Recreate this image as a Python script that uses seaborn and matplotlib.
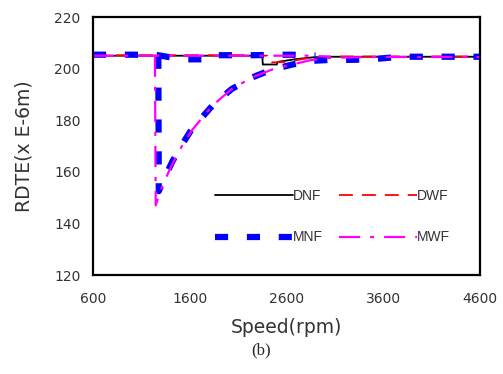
import matplotlib
matplotlib.use("Agg")
import matplotlib.pyplot as plt
import seaborn as sns
import pandas as pd
from matplotlib.lines import Line2D

sns.set_theme(style="white")
plt.rcParams["font.family"] = ["DejaVu Sans"]

# DNF: conventional, no fault
dnf_speed = [600, 1000, 1400, 1800, 2200, 2350, 2355, 2500, 2510, 2680, 2880, 3050, 3400, 4000, 4600]
dnf_rdte = [205.0, 205.0, 205.0, 205.0, 205.0, 205.0, 201.6, 201.6, 202.6, 203.6, 204.4, 204.6, 204.6, 204.6, 204.6]

# DWF: conventional, with fault
dwf_speed = [600, 1000, 1400, 1800, 2200, 2400, 2420, 2600, 2780, 2950, 3200, 3600, 4000, 4600]
dwf_rdte = [205.2, 205.2, 205.2, 205.2, 205.2, 205.0, 202.4, 202.6, 203.8, 204.6, 204.7, 204.7, 204.7, 204.7]

# MNF: upper (steady) branch and lower (transient) branch
mnf_upper_speed = [600, 1000, 1270, 1520, 1730, 1790, 2250, 2650, 2900]
mnf_upper_rdte = [205.4, 205.4, 205.2, 203.6, 203.6, 205.2, 205.2, 205.4, 205.0]
mnf_lower_speed = [1275, 1280, 1320, 1420, 1520, 1620, 1830, 2030, 2240, 2440, 2650, 2850, 3060, 3270, 3470, 3780, 4080, 4600]
mnf_lower_rdte = [205.0, 152.5, 156.0, 164.0, 170.5, 176.5, 185.5, 192.0, 196.5, 199.5, 201.5, 203.0, 203.4, 203.4, 203.6, 204.6, 204.6, 204.6]

# MWF: upper and lower branches
mwf_upper_speed = [600, 1000, 1240, 1600, 2000, 2400, 2850, 3060]
mwf_upper_rdte = [205.0, 205.0, 205.0, 205.0, 205.0, 205.0, 205.0, 204.6]
mwf_lower_speed = [1240, 1248, 1280, 1320, 1420, 1520, 1620, 1830, 2030, 2240, 2440, 2650, 2850, 3060, 3470, 4080, 4600]
mwf_lower_rdte = [205.0, 147.0, 150.5, 155.0, 163.0, 170.0, 176.0, 185.5, 192.0, 196.5, 199.5, 201.5, 203.3, 204.2, 204.5, 204.5, 204.5]

series_names = ["DNF", "DWF", "MNF", "MWF"]
x_ticks = [600, 1600, 2600, 3600, 4600]
y_ticks = [120, 140, 160, 180, 200, 220]


def frame(speeds, values, branches):
    rows = []
    for s, v, b in zip(speeds, values, branches):
        for xi, yi in zip(s, v):
            rows.append({"speed": xi, "rdte": yi, "branch": b})
    return pd.DataFrame(rows)


fig = plt.figure(figsize=(5.03, 3.74), dpi=100)
ax = fig.add_axes([0.1849, 0.2647, 0.7694, 0.6898])

styles = {
    "DNF": dict(color="black", lw=1.3, linestyle="-"),
    "DWF": dict(color="red", lw=1.3, linestyle=(0, (7.7, 5))),
    "MNF": dict(color="#0000ff", lw=4.5, linestyle=(0, (2.1, 3.0))),
    "MWF": dict(color="#ff00ff", lw=1.6, linestyle=(0, (9.5, 4.5, 1.8, 4.5))),
}

data = {
    "DNF": frame([dnf_speed], [dnf_rdte], ["a"]),
    "DWF": frame([dwf_speed], [dwf_rdte], ["a"]),
    "MNF": frame([mnf_upper_speed, mnf_lower_speed], [mnf_upper_rdte, mnf_lower_rdte], ["up", "low"]),
    "MWF": frame([mwf_upper_speed, mwf_lower_speed], [mwf_upper_rdte, mwf_lower_rdte], ["up", "low"]),
}

for name in ["DNF", "DWF", "MNF", "MWF"]:
    sns.lineplot(data=data[name], x="speed", y="rdte", units="branch",
                 estimator=None, sort=False, ax=ax, legend=False, **styles[name])

ax.set_xlim(600, 4600)
ax.set_ylim(120, 220)
ax.set_xticks(x_ticks)
ax.set_yticks(y_ticks)
ax.tick_params(direction="in", length=4, width=1.2, colors="black",
               labelsize=10, labelcolor="#333333", pad=9)
ax.tick_params(axis="x", pad=12)
for sp in ax.spines.values():
    sp.set_color("black")
    sp.set_linewidth(1.6)

ax.set_xlabel("Speed(rpm)", fontsize=13.5, color="#333333", labelpad=9)
ax.set_ylabel("RDTE(x E-6m)", fontsize=13.5, color="#333333", labelpad=15)

# column-major fill: DNF/MNF in column 1, DWF/MWF in column 2
legend_order = ["DNF", "MNF", "DWF", "MWF"]
handles = [Line2D([], [], **styles[n]) for n in legend_order]
ax.legend(handles, legend_order, ncol=2, loc="lower right",
          bbox_to_anchor=(0.955, 0.07), frameon=False,
          prop={"family": "Liberation Sans", "size": 10},
          handlelength=5.6, handletextpad=0.0, columnspacing=1.2,
          labelspacing=2.0, labelcolor="#333333")

fig.text(0.52, 0.063, "(b)", ha="center", va="center",
         fontsize=12, family=["Liberation Serif", "DejaVu Serif"])

fig.savefig("out.png", dpi=100)
